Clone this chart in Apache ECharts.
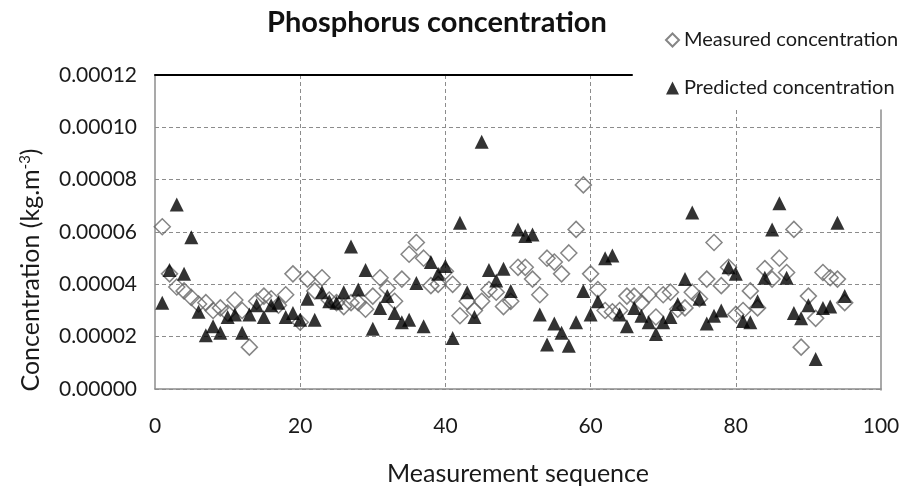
<!DOCTYPE html>
<html>
<head>
<meta charset="utf-8">
<script src="https://cdn.jsdelivr.net/npm/echarts@6/dist/echarts.min.js"></script>
<style>
html, body { margin: 0; padding: 0; background: #fff; }
#chart { width: 917px; height: 491px; }
</style>
</head>
<body>
<div id="chart"></div>
<script>
// measurement sequence (x)
let seq = [1, 2, 3, 4, 5, 6, 7, 8, 9, 10, 11, 12, 13, 14, 15, 16, 17, 18, 19, 20,
    21, 22, 23, 24, 25, 26, 27, 28, 29, 30, 31, 32, 33, 34, 35, 36, 37, 38, 39, 40,
    41, 42, 43, 44, 45, 46, 47, 48, 49, 50, 51, 52, 53, 54, 55, 56, 57, 58, 59, 60,
    61, 62, 63, 64, 65, 66, 67, 68, 69, 70, 71, 72, 73, 74, 75, 76, 77, 78, 79, 80,
    81, 82, 83, 84, 85, 86, 87, 88, 89, 90, 91, 92, 93, 94, 95];

// measured concentration, kg.m-3
let measured = [6.2e-5, 4.4e-5, 3.9e-5, 3.75e-5, 3.5e-5, 3.25e-5, 3.3e-5, 3.0e-5, 3.1e-5, 2.9e-5,
    3.4e-5, 3.0e-5, 1.6e-5, 3.35e-5, 3.55e-5, 3.45e-5, 3.2e-5, 3.6e-5, 4.4e-5, 2.55e-5,
    4.2e-5, 3.75e-5, 4.25e-5, 3.4e-5, 3.3e-5, 3.15e-5, 3.3e-5, 3.3e-5, 3.05e-5, 3.55e-5,
    4.25e-5, 3.85e-5, 3.35e-5, 4.2e-5, 5.15e-5, 5.6e-5, 5.0e-5, 3.95e-5, 4.0e-5, 4.5e-5,
    4.0e-5, 2.8e-5, 3.35e-5, 3.0e-5, 3.35e-5, 3.8e-5, 3.7e-5, 3.15e-5, 3.35e-5, 4.65e-5,
    4.65e-5, 4.2e-5, 3.6e-5, 5.0e-5, 4.85e-5, 4.4e-5, 5.2e-5, 6.1e-5, 7.8e-5, 4.4e-5,
    3.8e-5, 3.0e-5, 2.95e-5, 3.0e-5, 3.55e-5, 3.55e-5, 3.3e-5, 3.6e-5, 2.75e-5, 3.6e-5,
    3.7e-5, 3.05e-5, 3.1e-5, 3.7e-5, 3.45e-5, 4.2e-5, 5.6e-5, 3.95e-5, 4.65e-5, 2.85e-5,
    3.0e-5, 3.75e-5, 3.1e-5, 4.6e-5, 4.2e-5, 5.0e-5, 4.45e-5, 6.1e-5, 1.6e-5, 3.55e-5,
    2.7e-5, 4.45e-5, 4.25e-5, 4.2e-5, 3.3e-5];

// predicted concentration, kg.m-3
let predicted = [3.3e-5, 4.55e-5, 7.05e-5, 4.4e-5, 5.8e-5, 2.95e-5, 2.05e-5, 2.4e-5, 2.15e-5, 2.75e-5,
    2.85e-5, 2.15e-5, 2.85e-5, 3.2e-5, 2.75e-5, 3.2e-5, 3.3e-5, 2.75e-5, 2.9e-5, 2.65e-5,
    3.45e-5, 2.65e-5, 3.7e-5, 3.35e-5, 3.3e-5, 3.7e-5, 5.45e-5, 3.8e-5, 4.55e-5, 2.3e-5,
    3.1e-5, 3.55e-5, 2.9e-5, 2.55e-5, 2.65e-5, 4.05e-5, 2.4e-5, 4.85e-5, 4.4e-5, 4.7e-5,
    1.95e-5, 6.35e-5, 3.7e-5, 2.75e-5, 9.45e-5, 4.55e-5, 4.15e-5, 4.6e-5, 3.75e-5, 6.1e-5,
    5.85e-5, 5.9e-5, 2.85e-5, 1.7e-5, 2.5e-5, 2.15e-5, 1.65e-5, 2.55e-5, 3.75e-5, 2.85e-5,
    3.35e-5, 5.0e-5, 5.1e-5, 2.85e-5, 2.4e-5, 3.1e-5, 2.8e-5, 2.55e-5, 2.1e-5, 2.55e-5,
    2.75e-5, 3.25e-5, 4.2e-5, 6.75e-5, 3.45e-5, 2.5e-5, 2.8e-5, 3.0e-5, 4.65e-5, 4.4e-5,
    2.6e-5, 2.55e-5, 3.35e-5, 4.25e-5, 6.1e-5, 7.1e-5, 4.25e-5, 2.9e-5, 2.7e-5, 3.2e-5,
    1.15e-5, 3.1e-5, 3.15e-5, 6.35e-5, 3.55e-5];

let seriesNames = ['Measured concentration', 'Predicted concentration'];

let font = 'Lato';
let gridColor = '#8c8c8c';
let none = 'rgba(0,0,0,0)';

let chart = echarts.init(document.getElementById('chart'));

let option = {
    backgroundColor: '#fff',
    animation: false,
    title: {
        text: 'Phosphorus concentration',
        left: 262,
        top: 3,
        textStyle: { fontFamily: font, fontWeight: 'bold', fontSize: 29, color: '#111' }
    },
    legend: {
        orient: 'vertical',
        left: 632,
        top: 0,
        padding: [30, 6, 12, 33],
        itemGap: 28,
        itemWidth: 13,
        itemHeight: 13,
        textStyle: { fontFamily: font, fontSize: 20, color: '#1a1a1a' },
        data: seriesNames
    },
    // the legend box hides the top-right corner of the plot frame in the original,
    // so the frame is put together from three grids
    grid: [
        { left: 155, right: 36, top: 75, bottom: 101 },             // plot area
        { left: 155, width: 477, top: 75, height: 10 },              // top edge, stops at the legend
        { left: 155, right: 36, top: 110, bottom: 101 }              // right edge + x=80 line below the legend
    ],
    xAxis: [
        {
            type: 'value', gridIndex: 0,
            min: 0, max: 100, interval: 20,
            name: 'Measurement sequence',
            nameLocation: 'middle',
            nameGap: 72,
            nameTextStyle: { fontFamily: font, fontSize: 25, color: '#1a1a1a' },
            axisLine: { lineStyle: { color: gridColor, width: 1.5 } },
            axisTick: { show: false },
            axisLabel: { margin: 27, fontFamily: font, fontSize: 21, color: '#1a1a1a' },
            splitLine: { lineStyle: { color: [none, gridColor, gridColor, gridColor, none, none], type: [4, 3], width: 1 } }
        },
        {
            type: 'value', gridIndex: 1, position: 'top', min: 0, max: 100,
            axisLine: { onZero: false, lineStyle: { color: '#000', width: 2 } },
            axisTick: { show: false }, axisLabel: { show: false }, splitLine: { show: false }
        },
        {
            type: 'value', gridIndex: 2, min: 0, max: 100, interval: 20,
            axisLine: { show: false }, axisTick: { show: false }, axisLabel: { show: false },
            splitLine: { lineStyle: { color: [none, none, none, none, gridColor, none], type: [4, 3], width: 1 } }
        }
    ],
    yAxis: [
        {
            type: 'value', gridIndex: 0,
            min: 0, max: 0.00012, interval: 0.00002,
            name: '{a|Concentration (kg.m}{b|-3}{a|)}',
            nameLocation: 'middle',
            nameGap: 112,
            nameTextStyle: {
                padding: [0, 76, 0, 0],
                rich: {
                    a: { fontFamily: font, fontSize: 25, color: '#1a1a1a' },
                    b: { fontFamily: font, fontSize: 15, color: '#1a1a1a', verticalAlign: 'top' }
                }
            },
            axisLine: { show: true, lineStyle: { color: gridColor, width: 1.5 } },
            axisTick: { show: false },
            axisLabel: {
                margin: 18, fontFamily: font, fontSize: 21, color: '#1a1a1a',
                formatter: v => v.toFixed(5)
            },
            splitLine: {
                lineStyle: {
                    color: [gridColor, gridColor, gridColor, gridColor, gridColor, gridColor, none],
                    type: [4, 3], width: 1
                }
            }
        },
        {
            type: 'value', gridIndex: 1, min: 0, max: 1, show: false
        },
        {
            type: 'value', gridIndex: 2, position: 'right', min: 0, max: 1,
            axisLine: { show: true, onZero: false, lineStyle: { color: gridColor, width: 1.5 } },
            axisTick: { show: false }, axisLabel: { show: false }, splitLine: { show: false }
        }
    ],
    series: [
        {
            name: seriesNames[0],
            type: 'scatter',
            symbol: 'diamond',
            symbolSize: 16,
            itemStyle: { color: none, borderColor: '#666', borderWidth: 1.5 },
            data: seq.map((x, i) => [x, measured[i]])
        },
        {
            name: seriesNames[1],
            type: 'scatter',
            symbol: 'triangle',
            symbolSize: 14,
            itemStyle: { color: '#000' },
            data: seq.map((x, i) => [x, predicted[i]])
        }
    ]
};

chart.setOption(option);
</script>
</body>
</html>
